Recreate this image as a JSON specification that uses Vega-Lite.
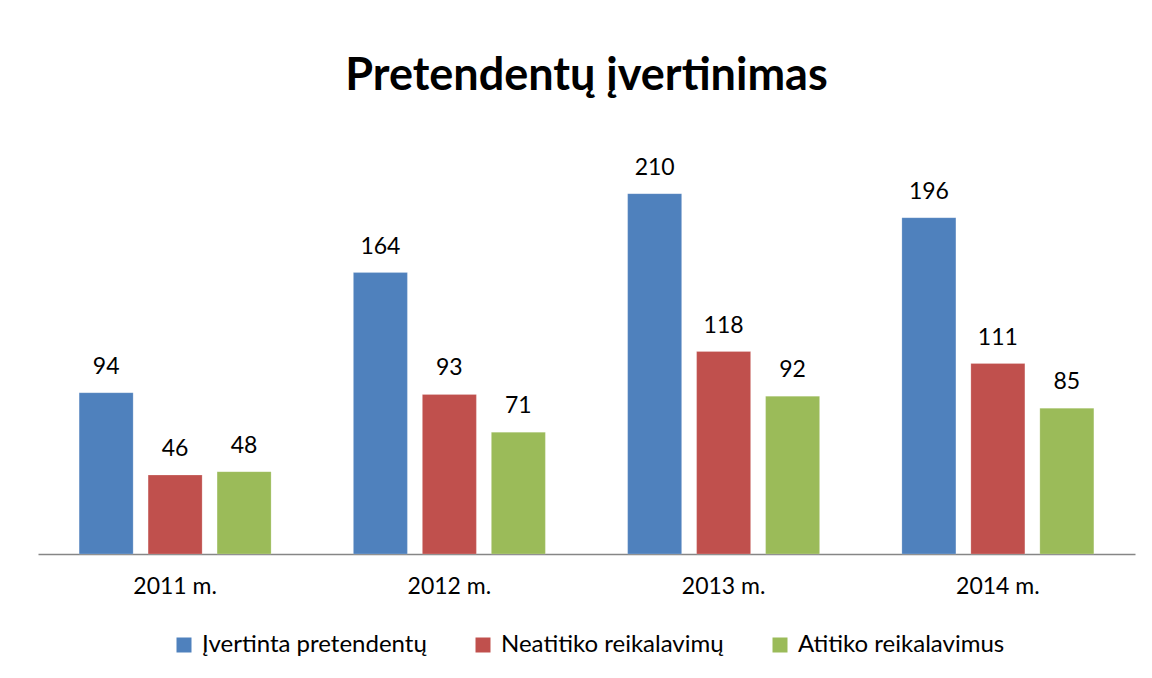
{
  "$schema": "https://vega.github.io/schema/vega-lite/v6.json",
  "width": 1097,
  "height": 429,
  "autosize": {"type": "none"},
  "padding": {"left": 38, "top": 125, "right": 17, "bottom": 124},
  "background": "white",
  "title": {
    "text": "Pretendentų įvertinimas",
    "fontSize": 45,
    "font": "Lato",
    "fontWeight": "bold",
    "color": "black",
    "anchor": "middle",
    "offset": 26
  },
  "data": {
    "values": [
      {"year": "2011 m.", "series": "Įvertinta pretendentų", "value": 94},
      {"year": "2011 m.", "series": "Neatitiko reikalavimų", "value": 46},
      {"year": "2011 m.", "series": "Atitiko reikalavimus", "value": 48},
      {"year": "2012 m.", "series": "Įvertinta pretendentų", "value": 164},
      {"year": "2012 m.", "series": "Neatitiko reikalavimų", "value": 93},
      {"year": "2012 m.", "series": "Atitiko reikalavimus", "value": 71},
      {"year": "2013 m.", "series": "Įvertinta pretendentų", "value": 210},
      {"year": "2013 m.", "series": "Neatitiko reikalavimų", "value": 118},
      {"year": "2013 m.", "series": "Atitiko reikalavimus", "value": 92},
      {"year": "2014 m.", "series": "Įvertinta pretendentų", "value": 196},
      {"year": "2014 m.", "series": "Neatitiko reikalavimų", "value": 111},
      {"year": "2014 m.", "series": "Atitiko reikalavimus", "value": 85}
    ]
  },
  "encoding": {
    "x": {
      "field": "year",
      "type": "nominal",
      "scale": {"paddingInner": 0.3, "paddingOuter": 0.15},
      "axis": {
        "title": null,
        "labelAngle": 0,
        "labelFontSize": 23,
        "labelFont": "Lato",
        "labelColor": "black",
        "labelPadding": 21,
        "ticks": false,
        "domainColor": "#868686",
        "domainWidth": 1.5
      }
    },
    "xOffset": {
      "field": "series",
      "type": "nominal",
      "sort": ["Įvertinta pretendentų", "Neatitiko reikalavimų", "Atitiko reikalavimus"],
      "scale": {"paddingInner": 0.217, "paddingOuter": 0}
    },
    "y": {
      "field": "value",
      "type": "quantitative",
      "scale": {"domain": [0, 250], "nice": false},
      "axis": null
    }
  },
  "layer": [
    {
      "mark": {"type": "bar", "stroke": "white", "strokeOpacity": 0.4, "strokeWidth": 0.5},
      "encoding": {
        "color": {
          "field": "series",
          "type": "nominal",
          "sort": ["Įvertinta pretendentų", "Neatitiko reikalavimų", "Atitiko reikalavimus"],
          "scale": {
            "domain": ["Įvertinta pretendentų", "Neatitiko reikalavimų", "Atitiko reikalavimus"],
            "range": ["#4F81BD", "#C0504D", "#9BBB59"]
          },
          "legend": {
            "title": null,
            "orient": "none",
            "legendX": 134,
            "legendY": 508,
            "direction": "horizontal",
            "symbolType": "square",
            "symbolSize": 225,
            "symbolStrokeWidth": 0,
            "labelFontSize": 24,
            "labelFont": "Lato",
            "labelColor": "black",
            "labelLimit": 0,
            "columnPadding": 44,
            "labelOffset": 6
          }
        }
      }
    },
    {
      "mark": {"type": "text", "baseline": "alphabetic", "dy": -19, "fontSize": 23, "font": "Lato", "color": "black"},
      "encoding": {
        "text": {"field": "value", "type": "quantitative"}
      }
    }
  ],
  "config": {
    "view": {"stroke": null}
  }
}
